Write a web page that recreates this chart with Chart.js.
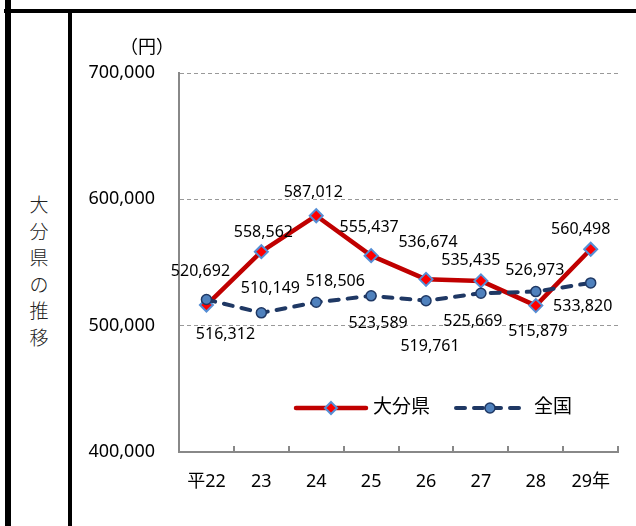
<!DOCTYPE html>
<html lang="ja">
<head>
<meta charset="utf-8">
<script src="https://cdn.jsdelivr.net/npm/chart.js@4"></script>
<style>
  html, body { margin: 0; padding: 0; background: #fff; }
  #wrap { position: relative; width: 636px; height: 526px; overflow: hidden; }
  .rule { position: absolute; background: #000; }
  #side {
    position: absolute; left: 10px; width: 58px; top: 191px;
    text-align: center; color: #222;
    font: 300 19px 'Noto Sans CJK JP', sans-serif; line-height: 26.6px;
  }
  canvas { position: absolute; left: 0; top: 0; }
</style>
</head>
<body>
<div id="wrap">
  <div class="rule" style="left:4px; top:9px; width:632px; height:4px"></div>
  <div class="rule" style="left:5px; top:0; width:6px; height:526px"></div>
  <div class="rule" style="left:68px; top:9px; width:3.5px; height:517px"></div>
  <div id="side">大<br>分<br>県<br>の<br>推<br>移</div>
  <canvas id="chart" width="636" height="526"></canvas>
</div>
<script>
// データ
const years = ['平22', '23', '24', '25', '26', '27', '28', '29年'];
const oita = [516312, 558562, 587012, 555437, 536674, 535435, 515879, 560498];
const zenkoku = [520692, 510149, 518506, 523589, 519761, 525669, 526973, 533820];
const yTicks = [400000, 500000, 600000, 700000];

// ラベルのずらし (点からのpx)
const oitaLabelPos = [[19, 29], [2, -19], [-3, -23], [-2, -28], [2, -37], [-10, -20], [2, 26], [-10, -20]];
const zenkokuLabelPos = [[-6, -28], [9, -24], [19, -21], [7, 28], [4, 46], [-8, 28], [-1, -21], [-8, 23]];

const FONT = "'Noto Sans', 'Noto Sans CJK JP', sans-serif";
const RED = '#C00000';
const NAVY = '#1F3864';

function diamond(ctx, x, y, r) {
    ctx.beginPath();
    ctx.moveTo(x, y - r);
    ctx.lineTo(x + r, y);
    ctx.lineTo(x, y + r);
    ctx.lineTo(x - r, y);
    ctx.closePath();
    ctx.fillStyle = '#FF0000';
    ctx.fill();
    ctx.lineWidth = 2;
    ctx.strokeStyle = '#558ED5';
    ctx.stroke();
}

const extras = {
    id: 'extras',
    afterDatasetsDraw(chart) {
        const ctx = chart.ctx;
        const area = chart.chartArea;
        ctx.save();

        // 数値ラベル
        ctx.font = `16px ${FONT}`;
        ctx.fillStyle = '#000';
        ctx.textAlign = 'center';
        ctx.textBaseline = 'middle';
        const pos = [oitaLabelPos, zenkokuLabelPos];
        chart.data.datasets.forEach((ds, d) => {
            chart.getDatasetMeta(d).data.forEach((pt, i) => {
                ctx.fillText(ds.data[i].toLocaleString('en-US'), pt.x + pos[d][i][0], pt.y + pos[d][i][1]);
            });
        });

        // 単位
        ctx.font = `18px ${FONT}`;
        ctx.fillText('（円）', area.left - 32, area.top - 25);

        // 凡例
        const ly = area.top + 335;
        const lx = area.left + 117;
        ctx.lineCap = 'round';
        ctx.lineWidth = 4.5;
        ctx.strokeStyle = RED;
        ctx.beginPath();
        ctx.moveTo(lx, ly);
        ctx.lineTo(lx + 70, ly);
        ctx.stroke();
        diamond(ctx, lx + 35, ly, 6);

        ctx.font = `19px ${FONT}`;
        ctx.fillStyle = '#000';
        ctx.textAlign = 'left';
        ctx.fillText('大分県', lx + 77, ly);

        const bx = lx + 160;
        ctx.lineWidth = 4;
        ctx.strokeStyle = NAVY;
        ctx.setLineDash([9, 9]);
        ctx.beginPath();
        ctx.moveTo(bx, ly);
        ctx.lineTo(bx + 66, ly);
        ctx.stroke();
        ctx.setLineDash([]);
        ctx.beginPath();
        ctx.arc(bx + 34, ly, 5, 0, Math.PI * 2);
        ctx.fillStyle = '#4F81BD';
        ctx.fill();
        ctx.lineWidth = 1.5;
        ctx.stroke();

        ctx.fillStyle = '#000';
        ctx.fillText('全国', bx + 78, ly);

        ctx.restore();
    }
};

new Chart(document.getElementById('chart'), {
    type: 'line',
    data: {
        labels: years,
        datasets: [
            {
                label: '大分県',
                data: oita,
                order: 2,
                borderColor: RED,
                borderWidth: 4.5,
                borderJoinStyle: 'round',
                pointStyle: 'rectRot',
                pointRadius: 6.5,
                pointBackgroundColor: '#FF0000',
                pointBorderColor: '#558ED5',
                pointBorderWidth: 2,
                tension: 0
            },
            {
                label: '全国',
                data: zenkoku,
                order: 1,
                borderColor: NAVY,
                borderWidth: 4,
                borderDash: [9, 9],
                borderCapStyle: 'round',
                pointStyle: 'circle',
                pointRadius: 5,
                pointBackgroundColor: '#4F81BD',
                pointBorderColor: NAVY,
                pointBorderWidth: 1.5,
                tension: 0
            }
        ]
    },
    options: {
        responsive: false,
        animation: false,
        devicePixelRatio: 1,
        layout: { padding: { left: 0, top: 73, right: 16, bottom: 0 } },
        plugins: {
            legend: { display: false },
            tooltip: { enabled: false }
        },
        scales: {
            x: {
                offset: true,
                grid: {
                    offset: true,
                    drawOnChartArea: false,
                    drawTicks: true,
                    tickLength: -6,
                    color: '#888',
                    lineWidth: 2
                },
                border: { color: '#888', width: 2 },
                ticks: {
                    padding: 25,
                    autoSkip: false,
                    maxRotation: 0,
                    color: '#000',
                    font: { family: FONT, size: 18 }
                },
                afterFit: s => { s.height = 74; }
            },
            y: {
                min: yTicks[0],
                max: yTicks[yTicks.length - 1],
                afterBuildTicks: s => { s.ticks = yTicks.map(v => ({ value: v })); },
                grid: { color: '#999', lineWidth: 1, drawTicks: false },
                border: { color: '#888', width: 2, dash: [4, 3] },
                ticks: {
                    padding: 24,
                    color: '#000',
                    font: { family: FONT, size: 18 },
                    callback: v => v.toLocaleString('en-US')
                },
                afterFit: s => { s.width = 179; }
            }
        }
    },
    plugins: [extras]
});
</script>
</body>
</html>
